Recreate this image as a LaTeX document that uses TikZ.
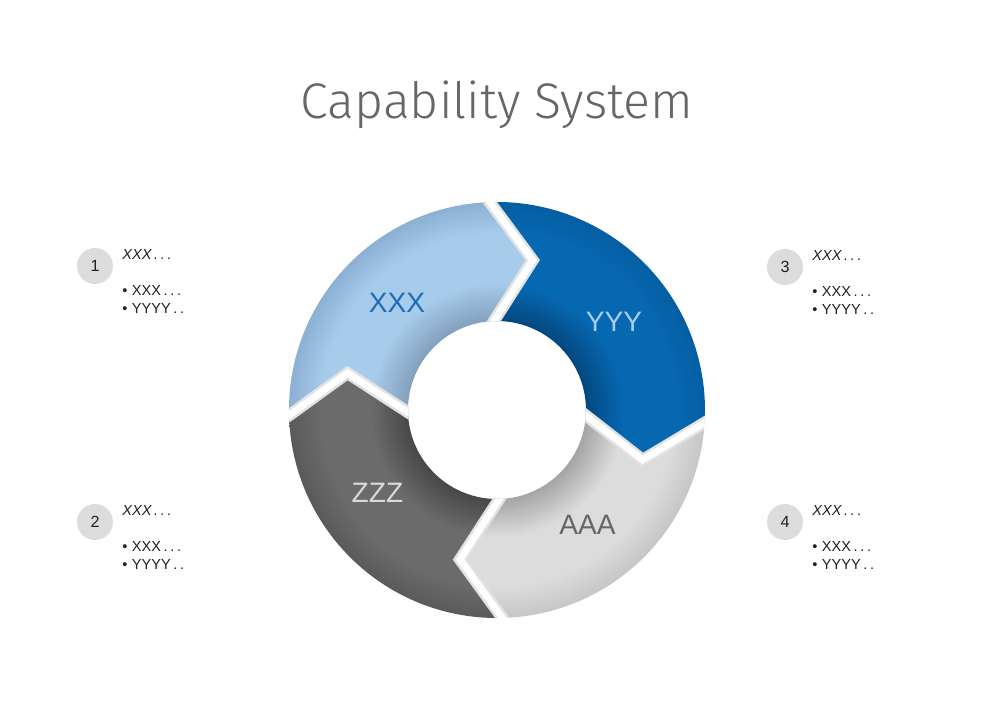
\documentclass[tikz,border=0pt]{standalone}
\usepackage{fontspec}
\setmainfont{Liberation Sans}
\newfontfamily\titlefont{Fira Sans Light}
\usepackage{tikz}
\usetikzlibrary{calc,positioning}
\definecolor{titlec}{HTML}{666666}
\definecolor{textc}{HTML}{222222}
\definecolor{badgec}{HTML}{DCDCDC}
\definecolor{gapc}{HTML}{E2E2E2}
% segment colours: inner rim, middle, outer rim
\definecolor{xxxin}{HTML}{819FBC}
\definecolor{xxxmid}{HTML}{A7CBEB}
\definecolor{xxxout}{HTML}{8CB0D3}
\definecolor{yyyin}{HTML}{03477D}
\definecolor{yyymid}{HTML}{0768B2}
\definecolor{yyyout}{HTML}{055EA3}
\definecolor{aaain}{HTML}{A4A4A4}
\definecolor{aaamid}{HTML}{DCDCDC}
\definecolor{aaaout}{HTML}{C6C6C6}
\definecolor{zzzin}{HTML}{474747}
\definecolor{zzzmid}{HTML}{6B6B6B}
\definecolor{zzzout}{HTML}{5A5A5A}
\definecolor{xxxtxt}{HTML}{1F6DB7}
\definecolor{yyytxt}{HTML}{A9CCEC}
\definecolor{aaatxt}{HTML}{666666}
\definecolor{zzztxt}{HTML}{DADADA}
\pgfdeclareradialshading{xxxsh}{\pgfpoint{0bp}{0bp}}{color(0bp)=(xxxin);color(50bp)=(xxxin);color(72bp)=(xxxmid);color(100bp)=(xxxmid);color(118bp)=(xxxout);color(125bp)=(xxxout)}
\pgfdeclareradialshading{yyysh}{\pgfpoint{0bp}{0bp}}{color(0bp)=(yyyin);color(50bp)=(yyyin);color(72bp)=(yyymid);color(100bp)=(yyymid);color(118bp)=(yyyout);color(125bp)=(yyyout)}
\pgfdeclareradialshading{aaash}{\pgfpoint{0bp}{0bp}}{color(0bp)=(aaain);color(50bp)=(aaain);color(72bp)=(aaamid);color(100bp)=(aaamid);color(118bp)=(aaaout);color(125bp)=(aaaout)}
\pgfdeclareradialshading{zzzsh}{\pgfpoint{0bp}{0bp}}{color(0bp)=(zzzin);color(50bp)=(zzzin);color(72bp)=(zzzmid);color(100bp)=(zzzmid);color(118bp)=(zzzout);color(125bp)=(zzzout)}
\newcommand{\segpath}[2]{(#1:208) arc[start angle=#1,end angle=#2,radius=208] -- (#2-15.4:154) -- (#2:89) arc[start angle=#2,end angle=#1,radius=89] -- (#1-15.4:154) -- cycle}
\newcommand{\spdots}[1]{\foreach \k in {1,...,#1}{\kern1.5pt.}}
\tikzset{
  lbl/.style={font=\fontsize{16}{18}\selectfont,inner sep=0pt},
  badge/.style={circle,fill=badgec,minimum size=0.72cm,inner sep=0pt,text=textc,font=\fontsize{9.2}{10}\selectfont},
  head/.style={anchor=base west,inner sep=0pt,text=textc,font=\fontsize{8.3}{10}\selectfont\itshape},
  item/.style={anchor=base west,inner sep=0pt,text=textc,font=\fontsize{8.3}{10}\selectfont},
  gap/.style={line width=6.8pt,draw=gapc,line join=miter},
  gapw/.style={line width=4pt,draw=white,line join=miter}
}
\begin{document}
\begin{tikzpicture}[x=0.02cm,y=0.02cm]
\useasboundingbox[fill=white] (-497,-291) rectangle (495,410);
\node[font=\titlefont\fontsize{28.5}{34}\selectfont,text=titlec,anchor=base] (title) at (0,292) {Capability System};
% ring segments
\begin{scope}
  \clip \segpath{181.5}{92};
  \pgfuseshading{xxxsh}
\end{scope}
\begin{scope}
  \clip \segpath{92}{-3.5};
  \pgfuseshading{yyysh}
\end{scope}
\begin{scope}
  \clip \segpath{-3.5}{-88.5};
  \pgfuseshading{aaash}
\end{scope}
\begin{scope}
  \clip \segpath{-88.5}{-178.5};
  \pgfuseshading{zzzsh}
\end{scope}
% white chevron gaps
\begin{scope}[even odd rule]
  \clip (0,0) circle (208) (0,0) circle (89);
  \foreach \b in {92,-3.5,-88.5,181.5}{
    \draw[gap] ($(\b:208)!-0.25!(\b-15.4:154)$) -- (\b-15.4:154) -- ($(\b:89)!-0.35!(\b-15.4:154)$);
    \draw[gapw] ($(\b:208)!-0.25!(\b-15.4:154)$) -- (\b-15.4:154) -- ($(\b:89)!-0.35!(\b-15.4:154)$);
  }
\end{scope}
\node[lbl,text=xxxtxt] (xxx) at (-100,107) {XXX};
\node[lbl,text=yyytxt] (yyy) at (117,88) {YYY};
\node[lbl,text=zzztxt] (zzz) at (-119.5,-83) {ZZZ};
\node[lbl,text=aaatxt] (aaa) at (90.5,-115) {AAA};
% side notes
\foreach \n/\x/\y in {1/-402/144,2/-402/-112,3/288/143,4/288/-112}{
  \node[badge] (b\n) at (\x,\y) {\n};
  \node[head] (h\n) at ($(\x,\y)+(27,7)$) {XXX\spdots{3}};
  \node[item] (i\n) at ($(\x,\y)+(27,-29)$) {\textbullet\kern2.5pt XXX\spdots{3}};
  \node[item] (j\n) at ($(\x,\y)+(27,-47)$) {\textbullet\kern2.5pt YYYY\spdots{2}};
}
\end{tikzpicture}
\end{document}
